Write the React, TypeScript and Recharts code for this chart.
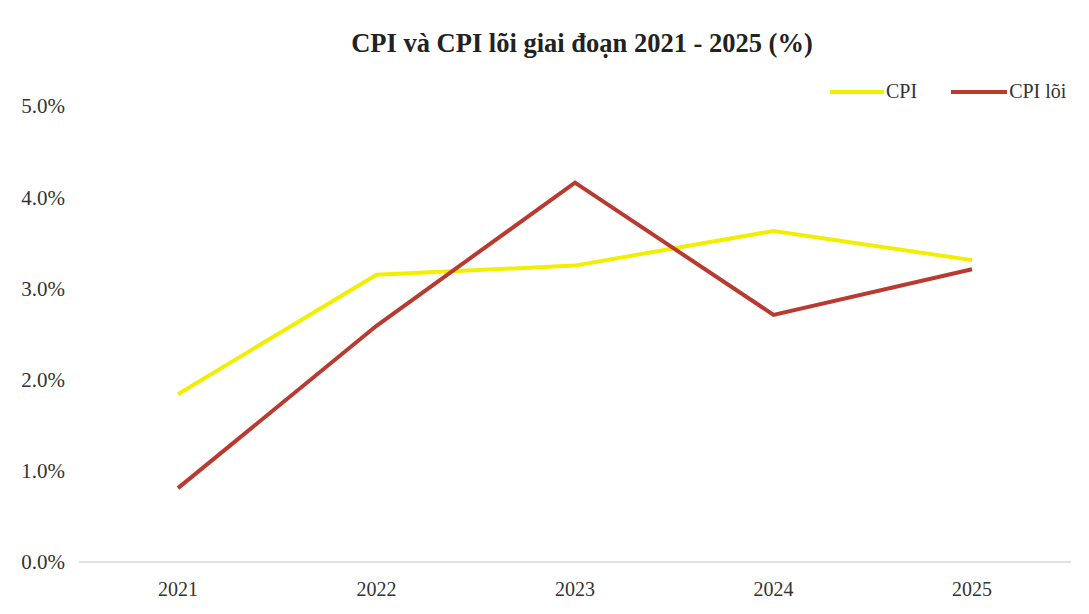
import { LineChart, Line, XAxis, YAxis, Legend } from 'recharts';

const years = ['2021', '2022', '2023', '2024', '2025'];
const cpi = [1.84, 3.15, 3.25, 3.63, 3.31];
const coreCpi = [0.81, 2.59, 4.16, 2.71, 3.21];
const yTicks = [0, 1, 2, 3, 4, 5];

const data = years.map((year, i) => ({ year, cpi: cpi[i], core: coreCpi[i] }));

const font = '"Liberation Serif", "Times New Roman", serif';

const LegendContent = () => (
  <div style={{ position: 'absolute', left: 830, top: -10, display: 'flex', alignItems: 'center', fontFamily: font, fontSize: 20, color: '#333' }}>
    <span style={{ display: 'inline-block', width: 54, height: 4, background: '#F2EE00' }} />
    <span style={{ marginLeft: 2 }}>CPI</span>
    <span style={{ display: 'inline-block', width: 56, height: 4, background: '#B83A30', marginLeft: 34 }} />
    <span style={{ marginLeft: 2 }}>CPI lõi</span>
  </div>
);

export default function App() {
  return (
    <div style={{ position: 'absolute', left: 0, top: 0, width: 1089, height: 614, background: '#fff' }}>
      <div style={{ position: 'absolute', left: 0, width: 1164, top: 28, textAlign: 'center', fontFamily: font, fontWeight: 'bold', fontSize: 26.5, color: '#222' }}>
        CPI và CPI lõi giai đoạn 2021 - 2025 (%)
      </div>
      <LineChart width={1089} height={614} data={data} margin={{ top: 106, right: 18, bottom: 22, left: 0 }}>
        <XAxis
          dataKey="year"
          height={30}
          padding={{ left: 99, right: 99 }}
          axisLine={{ stroke: '#d9d9d9', strokeWidth: 1.5 }}
          tickLine={false}
          tick={{ fill: '#333', fontSize: 20, fontFamily: font }}
          tickMargin={14}
        />
        <YAxis
          width={79}
          domain={[0, 5]}
          ticks={yTicks}
          axisLine={false}
          tickLine={false}
          tickFormatter={(v: number) => `${v.toFixed(1)}%`}
          tick={{ fill: '#333', fontSize: 21, fontFamily: font, dx: -6, dy: 0 }}
        />
        <Legend verticalAlign="top" content={<LegendContent />} wrapperStyle={{ top: 90, left: 0 }} />
        <Line dataKey="cpi" name="CPI" stroke="#F2EE00" strokeWidth={4} dot={false} isAnimationActive={false} />
        <Line dataKey="core" name="CPI lõi" stroke="#B83A30" strokeWidth={4} dot={false} isAnimationActive={false} />
      </LineChart>
    </div>
  );
}
